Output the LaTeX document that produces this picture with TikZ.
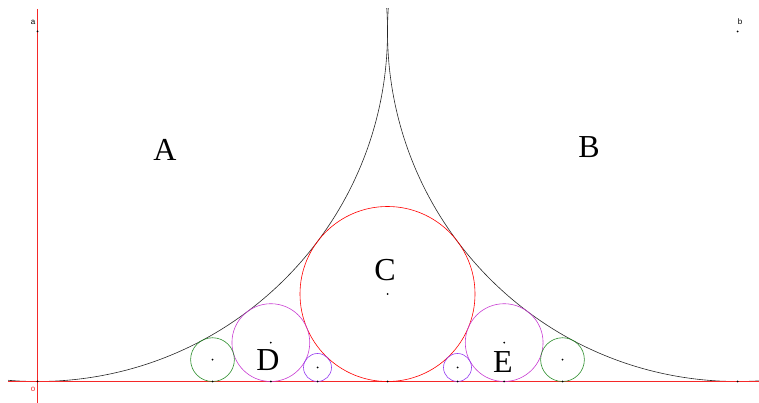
\documentclass[tikz,border=0pt]{standalone}
\usepackage{fontspec}
\setmainfont{Liberation Serif}
\newfontfamily\tinysans{Liberation Sans}
\definecolor{axisred}{RGB}{245,40,40}
\definecolor{plum}{RGB}{200,60,210}
\definecolor{lilac}{RGB}{150,60,240}
\definecolor{leaf}{RGB}{40,140,40}
\begin{document}
\begin{tikzpicture}[x=1pt, y=1pt, every node/.style={font=\fontsize{32}{32}\selectfont}]
\useasboundingbox (0,0) rectangle (759,403);
\tikzset{
    arc/.style={line width=0.6pt},
    axisline/.style={draw=axisred, line width=1.2pt},
    dot/.style={fill=black},
    tag/.style={font=\tinysans\fontsize{8}{8}\selectfont, inner sep=0pt}
}
% --- punti ---
\coordinate (o) at (37.5,21.5);
\coordinate (xl) at (8,21.5);
\coordinate (xr) at (759,21.5);
\coordinate (yt) at (37.5,394);
\coordinate (yb) at (37.5,0);
\coordinate (cA) at (37.5,371.5);
\coordinate (cB) at (737.5,371.5);
\coordinate (cC) at (387.5,109);
\coordinate (cD) at (270.83,60.39);
\coordinate (cE) at (504.17,60.39);
\coordinate (gL) at (212.5,43.375);
\coordinate (gR) at (562.5,43.375);
\coordinate (vL) at (317.5,35.5);
\coordinate (vR) at (457.5,35.5);
% --- cerchi grandi ---
\begin{scope}
    \clip (8,0) rectangle (759,394);
    \draw[black!85, arc] (cA) circle (350pt);
    \draw[black!85, arc] (cB) circle (350pt);
\end{scope}
% --- assi ---
\path[axisline] (xl) -- (xr);
\path[axisline, line width=0.9pt] (yt) -- (yb);
% --- catena di cerchi ---
\draw[red, arc] (cC) circle (87.5pt);
\draw[plum, arc] (cD) circle (38.89pt);
\draw[plum, arc] (cE) circle (38.89pt);
\draw[leaf, arc] (gL) circle (21.875pt);
\draw[leaf, arc] (gR) circle (21.875pt);
\draw[lilac, arc] (vL) circle (14pt);
\draw[lilac, arc] (vR) circle (14pt);
% --- centri e punti di contatto ---
\foreach \c in {cA,cB,cC,cD,cE,gL,gR,vL,vR} {
    \fill[dot] (\c) circle (1pt);
}
\foreach \t in {37.5,212.5,270.83,317.5,387.5,457.5,504.17,562.5,737.5} {
    \fill[dot] (\t,21.5) circle (1pt);
}
% --- etichette ---
\node[tag] (la) at (33,381) {a};
\node[tag] (lb) at (740,381) {b};
\node[tag, text=axisred] (lo) at (33,14) {o};
\node (nA) at (165,253) {A};
\node (nB) at (589,256) {B};
\node (nC) at (385,133) {C};
\node (nD) at (268,43) {D};
\node (nE) at (503,41) {E};
\end{tikzpicture}
\end{document}
